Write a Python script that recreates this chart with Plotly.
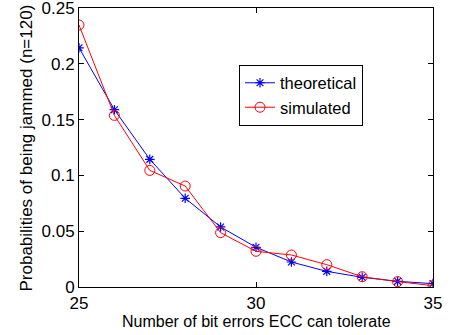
import plotly.graph_objects as go

x_vals = [25, 26, 27, 28, 29, 30, 31, 32, 33, 34, 35]
theoretical = [0.2144, 0.1589, 0.1144, 0.0795, 0.0538, 0.0356, 0.0224, 0.0140, 0.0087, 0.0051, 0.0030]
simulated = [0.2348, 0.1538, 0.1045, 0.0905, 0.0487, 0.0320, 0.0287, 0.0200, 0.0092, 0.0048, 0.0012]
x_ticks = [25, 30, 35]
y_ticks = [0, 0.05, 0.1, 0.15, 0.2, 0.25]
y_tick_text = ["0", "0.05", "0.1", "0.15", "0.2", "0.25"]
x_title = "Number of bit errors ECC can tolerate"
y_title = "Probabilities of being jammed (n=120)"

fig = go.Figure()
fig.add_trace(go.Scatter(
    x=x_vals, y=theoretical, mode="lines+markers", name="theoretical",
    line=dict(color="#0000ff", width=1),
    marker=dict(symbol="asterisk-open", size=8, color="#0000ff", line=dict(color="#0000ff", width=1.2)),
))
fig.add_trace(go.Scatter(
    x=x_vals, y=simulated, mode="lines+markers", name="simulated",
    line=dict(color="#ff0000", width=1),
    marker=dict(symbol="circle-open", size=10, color="#ff0000", line=dict(color="#ff0000", width=1)),
))

axis_common = dict(
    showgrid=False, zeroline=False, showline=True, linecolor="black", linewidth=1,
    mirror="ticks", ticks="inside", ticklen=5, tickcolor="black", tickwidth=1,
    ticklabeloverflow="allow", automargin=False,
    tickfont=dict(family="Liberation Sans, Arial, sans-serif", size=17, color="black"),
)

fig.update_layout(
    width=466, height=335,
    margin=dict(l=79, r=33, t=8, b=48),
    paper_bgcolor="white", plot_bgcolor="white",
    font=dict(family="Liberation Sans, Arial, sans-serif", size=17, color="black"),
    xaxis=dict(
        range=[25, 35], tickvals=x_ticks, ticktext=[str(v) for v in x_ticks],
        ticklabelstandoff=1,
        **axis_common,
    ),
    yaxis=dict(
        range=[0, 0.25005], tickvals=y_ticks, ticktext=y_tick_text,
        **axis_common,
    ),
    legend=dict(
        x=0.452, y=0.688, xanchor="left", yanchor="middle",
        bordercolor="black", borderwidth=1, bgcolor="white",
        font=dict(size=16.5), tracegroupgap=0, itemwidth=30,
    ),
    showlegend=True,
    annotations=[
        dict(
            text=x_title, xref="paper", yref="paper", x=0.5, y=0,
            xanchor="center", yanchor="middle", yshift=-34, showarrow=False,
            borderpad=0, font=dict(size=16),
        ),
        dict(
            text=y_title, xref="paper", yref="paper", x=0, y=0.5,
            xanchor="center", yanchor="middle", xshift=-53, yshift=-1,
            textangle=-90, showarrow=False, borderpad=0, font=dict(size=17),
        ),
    ],
)

fig.write_html("out.html")
